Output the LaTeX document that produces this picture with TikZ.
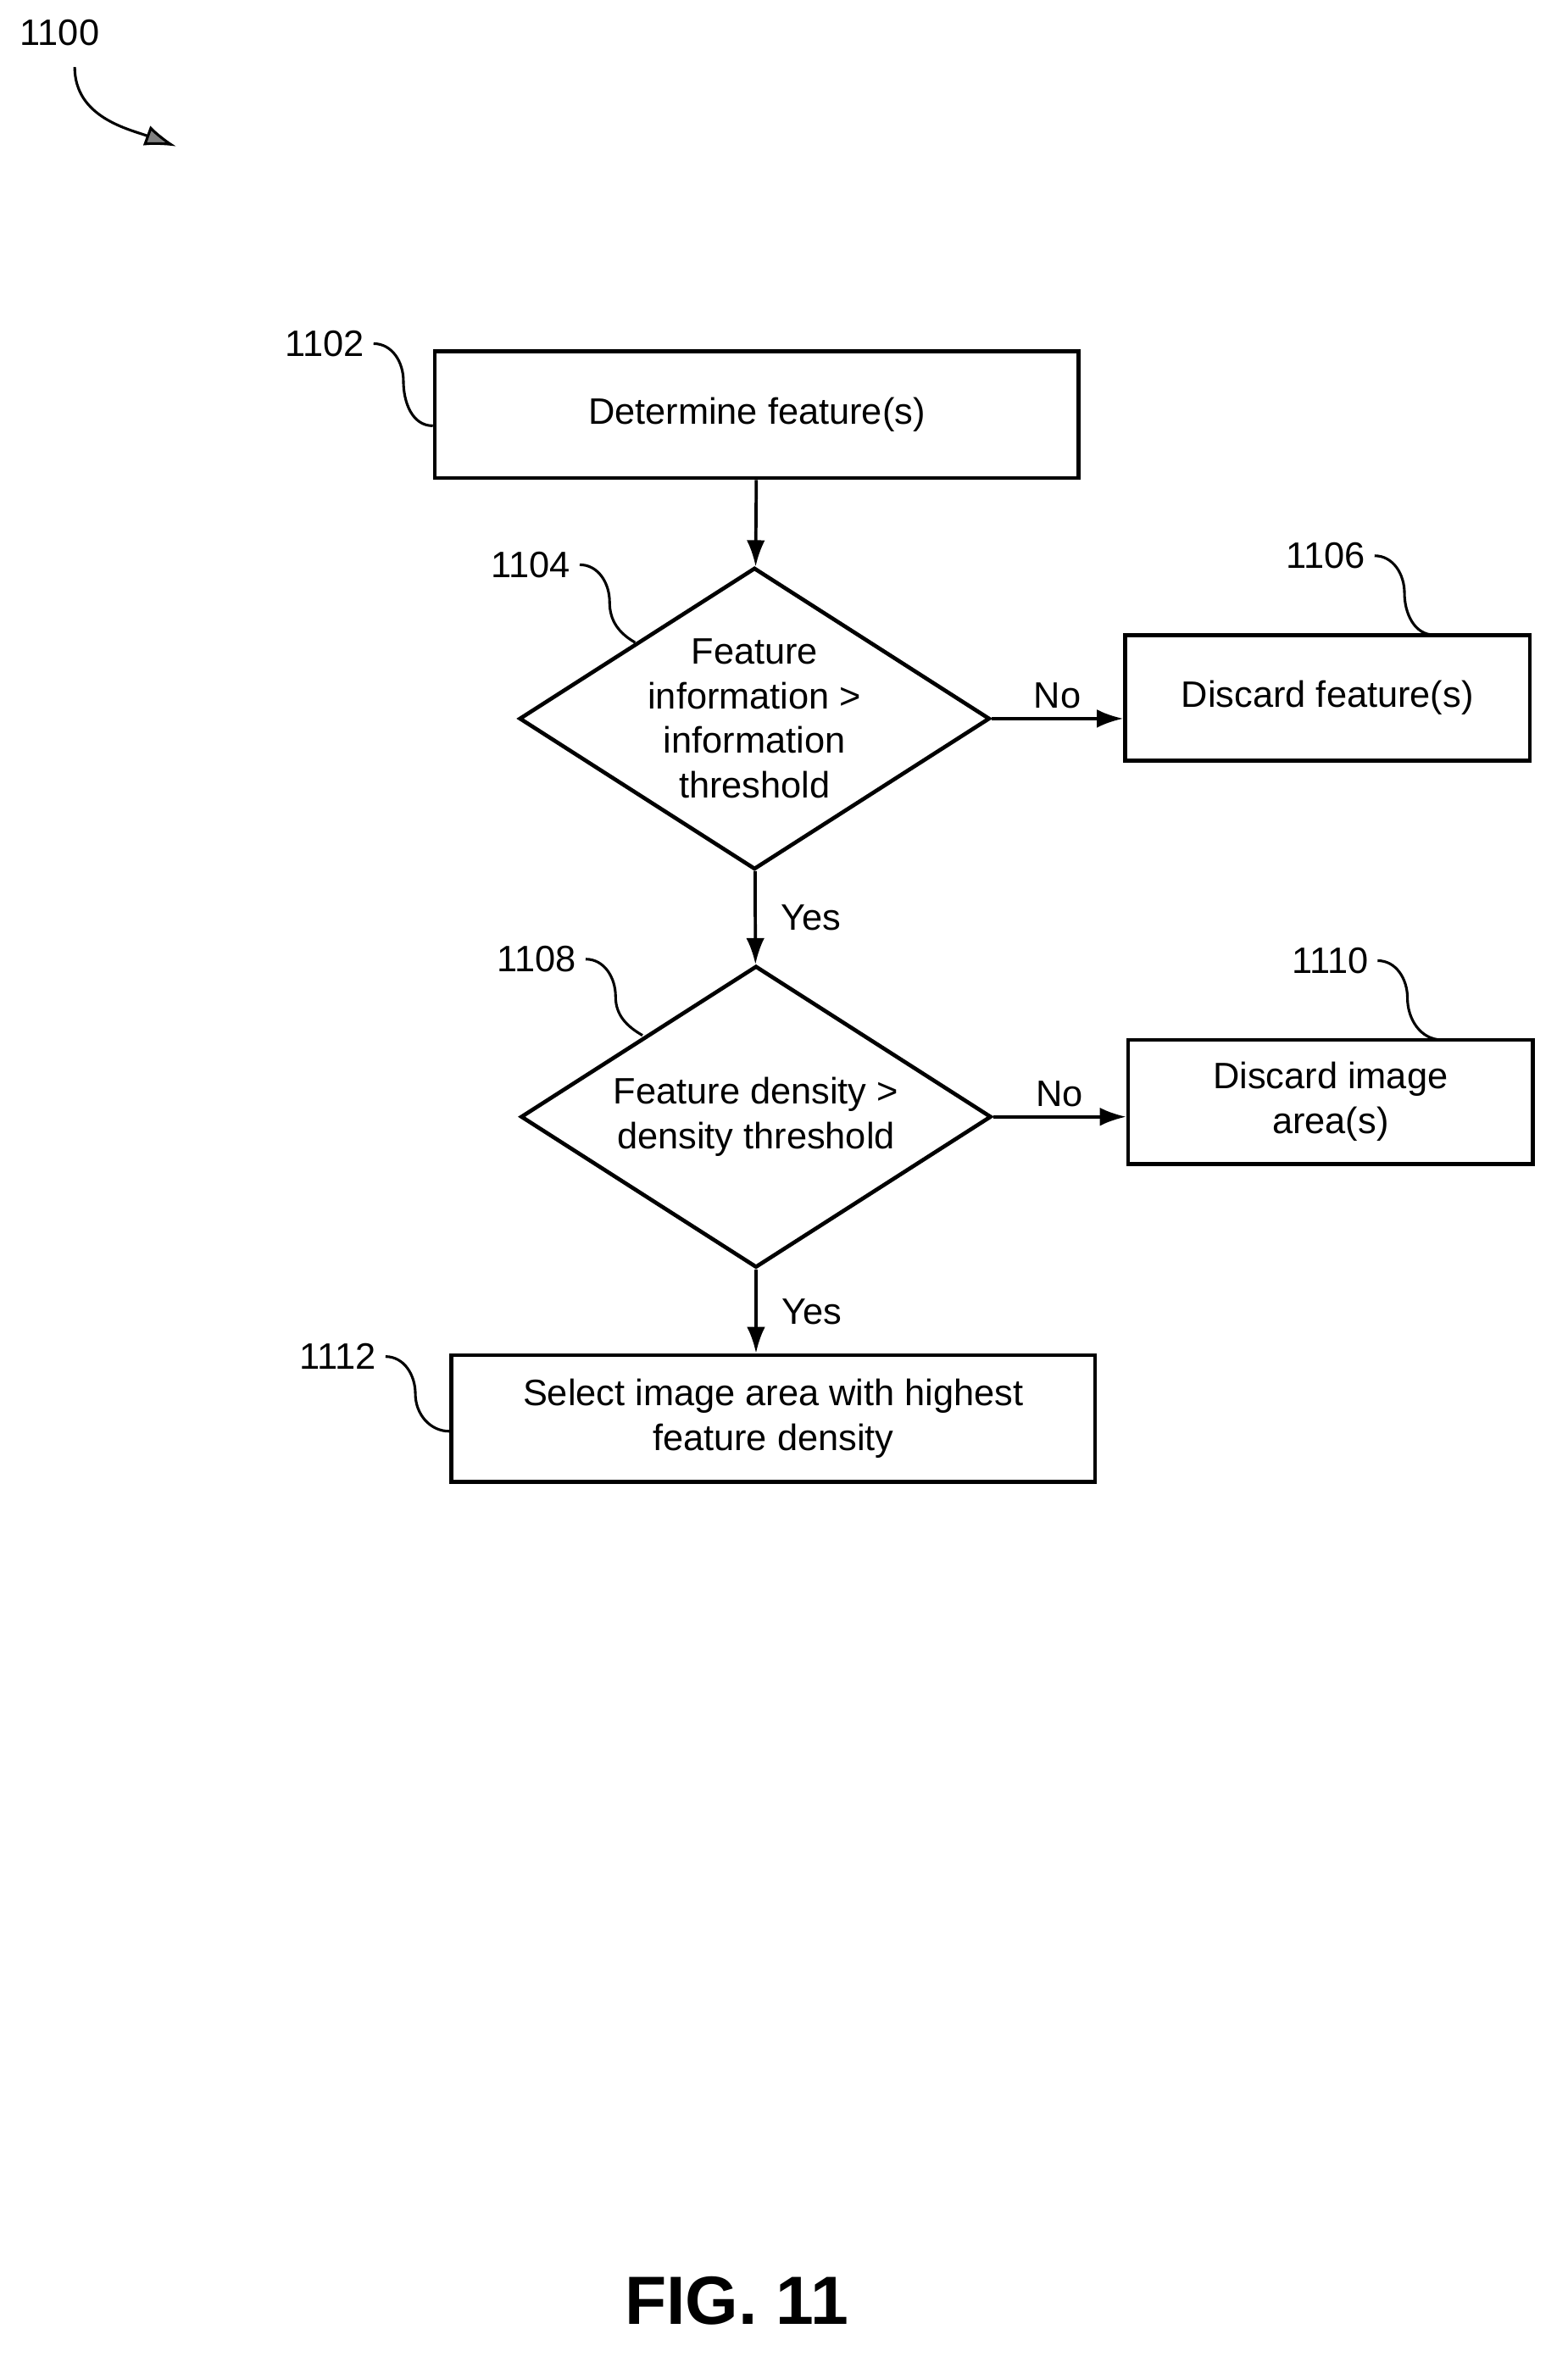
\documentclass[tikz,border=0pt]{standalone}
\usepackage{fontspec}
\setmainfont{Liberation Sans}
\usetikzlibrary{shapes.geometric, arrows.meta, positioning, calc}

\begin{document}
\begin{tikzpicture}[
    x=0.02cm, y=-0.02cm,
    font=\fontsize{14}{17}\selectfont,
    block/.style={
        rectangle,
        draw,
        line width=1.5pt,
        align=center,
        inner sep=0pt
    },
    decision/.style={
        diamond,
        draw,
        line width=1.5pt,
        inner sep=0pt,
        minimum width=6.3cm,
        minimum height=4.04cm
    },
    line/.style={
        draw,
        line width=1.2pt,
        -{Latex[length=10pt,width=7pt]}
    },
    leader/.style={
        draw,
        line width=1pt
    }
]
\useasboundingbox (0,0) rectangle (1049,1581);

% Nodes
\node [block, minimum width=8.62cm, minimum height=1.7cm] (determine) at (506.5,277.5) {Determine feature(s)};
\node [decision] (info) at (505,481) {};
\node [align=center] (infotext) at (info.center) {Feature\\information >\\information\\threshold};
\node [block, minimum width=5.42cm, minimum height=1.68cm] (discardf) at (888.5,467) {Discard feature(s)};
\node [decision] (density) at (506,747.5) {};
\node [align=center] (densitytext) at (density.center) {Feature density >\\density threshold};
\node [block, minimum width=5.42cm, minimum height=1.66cm] (discarda) at (890.5,737.5) {Discard image\\area(s)};
\node [block, minimum width=8.62cm, minimum height=1.7cm] (select) at (517.5,949.5) {Select image area with highest\\feature density};

% Reference numerals
\node (n1100) at (40,22) {1100};
\node [anchor=east] (n1102) at (250,230) {1102};
\node [anchor=east] (n1104) at (388,378) {1104};
\node [anchor=east] (n1106) at (920,372) {1106};
\node [anchor=east] (n1108) at (392,642) {1108};
\node [anchor=east] (n1110) at (922,643) {1110};
\node [anchor=east] (n1112) at (258,908) {1112};
\node [font=\bfseries\fontsize{26}{30}\selectfont] (fig) at (493,1540) {FIG. 11};

% Leaders
\coordinate (l1100) at (118,98);
\draw [line width=1pt, -{Latex[length=12pt,width=8pt,fill=gray]}] (n1100.south) ++(10,8) to[out=-90,in=160] (l1100);
\path [leader] (n1102.east) to[out=0,in=90] ++(20,25) to[out=-90,in=180] (determine.west|-0,285);
\path [leader] (n1104.east) to[out=0,in=90] ++(20,25) to[out=-90,in=150] (425,430);
\path [leader] (n1106.east) to[out=0,in=90] ++(20,25) to[out=-90,in=180] (960,425);
\path [leader] (n1108.east) to[out=0,in=90] ++(20,25) to[out=-90,in=150] (430,693);
\path [leader] (n1110.east) to[out=0,in=90] ++(20,25) to[out=-90,in=180] (965,696);
\path [leader] (n1112.east) to[out=0,in=90] ++(20,25) to[out=-90,in=180] (select.west|-0,958);

% Paths
\path [line] (determine) -- (info);
\path [line] (info.east) -- node [above] {No} (discardf.west|-info.east);
\path [line] (info) -- node [right, xshift=6pt] {Yes} (density);
\path [line] (density.east) -- node [above] {No} (discarda.west|-density.east);
\path [line] (density.south) -- node [right, xshift=6pt] {Yes} (density.south|-select.north);

\end{tikzpicture}
\end{document}
